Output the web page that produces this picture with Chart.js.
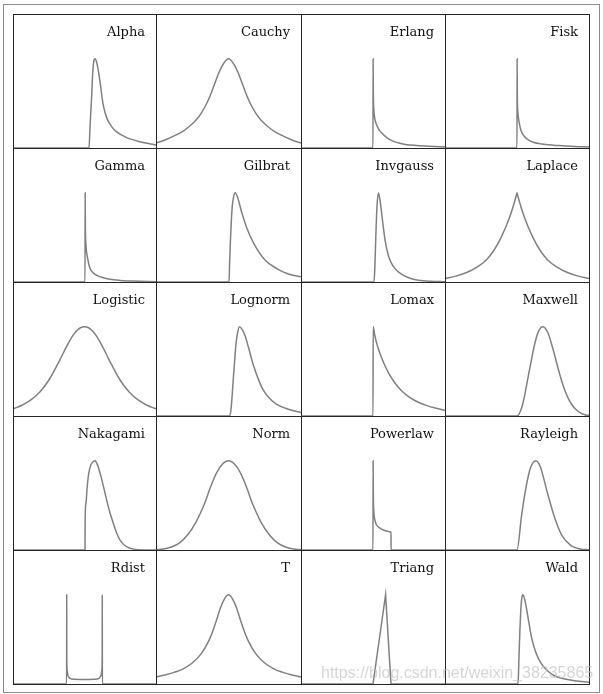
<!DOCTYPE html>
<html>
<head>
<meta charset="utf-8">
<script src="https://cdn.jsdelivr.net/npm/chart.js@4.4.0/dist/chart.umd.min.js"></script>
<style>
  body { margin:0; background:#fff; width:603px; height:694px; overflow:hidden; position:relative; }
  #frame { position:absolute; left:3px; top:4px; width:597px; height:689px; box-sizing:border-box; border:1px solid #8c8c8c; }
  canvas { position:absolute; }
  .gl { position:absolute; background:#262626; z-index:2; }
  #mark { position:absolute; left:321px; top:664px; z-index:3; font:16px "Liberation Sans", Arial, sans-serif; color:rgba(190,190,190,0.65); white-space:nowrap; }
</style>
</head>
<body>
<div id="frame"></div>
<div id="mark">https://blog.csdn.net/weixin_38235865</div>
<script>
// panel titles, row by row
const names = ["Alpha", "Cauchy", "Erlang", "Fisk",
  "Gamma", "Gilbrat", "Invgauss", "Laplace",
  "Logistic", "Lognorm", "Lomax", "Maxwell",
  "Nakagami", "Norm", "Powerlaw", "Rayleigh",
  "Rdist", "T", "Triang", "Wald"];

// pdf curves, [x, y] with the peak scaled to 1
const alpha = [[-4,0],[0.25,0],[0.31,0.24],[0.40,0.58],[0.46,0.84],[0.52,0.97],[0.59,1],[0.68,0.96],[0.77,0.87],[0.87,0.74],[0.96,0.6],[1.05,0.48],[1.24,0.34],[1.52,0.24],[1.8,0.18],[2.36,0.116],[3.1,0.07],[4,0.034]];
const cauchy = [[-4,0.055],[-3.5,0.09],[-3,0.135],[-2.5,0.19],[-2.2,0.235],[-1.8,0.31],[-1.5,0.39],[-1.15,0.52],[-0.76,0.72],[-0.4,0.9],[0,1],[0.4,0.9],[0.76,0.72],[1.15,0.52],[1.5,0.39],[1.8,0.31],[2.2,0.235],[2.5,0.19],[3,0.135],[3.5,0.09],[4,0.055]];
const erlang = [[-4,0],[0,0],[0.005,1],[0.02,0.6],[0.05,0.42],[0.1,0.33],[0.2,0.26],[0.35,0.2],[0.5,0.165],[0.75,0.12],[1.05,0.082],[1.4,0.058],[1.8,0.04],[2.4,0.028],[3.1,0.02],[4,0.01]];
const fisk = [[-4,0],[0,0],[0.005,1],[0.02,0.55],[0.05,0.4],[0.1,0.31],[0.2,0.21],[0.3,0.16],[0.45,0.12],[0.63,0.09],[0.9,0.065],[1.37,0.045],[2,0.032],[2.5,0.026],[3.2,0.018],[4,0.012]];
const gamma = [[-4,0],[0.03,0],[0.035,1],[0.05,0.6],[0.08,0.42],[0.16,0.28],[0.31,0.15],[0.5,0.1],[0.68,0.075],[1,0.05],[1.43,0.03],[2,0.018],[2.73,0.01],[4,0.004]];
const gilbrat = [[-4,0],[0.03,0],[0.06,0.2],[0.1,0.43],[0.2,0.83],[0.3,0.97],[0.37,1],[0.5,0.95],[0.7,0.8],[1,0.61],[1.4,0.43],[2,0.25],[2.66,0.15],[3.3,0.09],[4,0.058]];
const invgauss = [[-4,0],[0.05,0],[0.1,0.15],[0.15,0.47],[0.22,0.84],[0.3,1],[0.38,0.93],[0.48,0.77],[0.57,0.62],[0.67,0.47],[0.85,0.3],[1,0.22],[1.22,0.15],[1.5,0.1],[1.78,0.065],[2.1,0.04],[2.52,0.02],[3.2,0.008],[4,0.003]];
const laplace = [[-4,0.04],[-3.4,0.066],[-2.8,0.106],[-2.2,0.17],[-1.69,0.25],[-1.3,0.35],[-0.88,0.5],[-0.4,0.73],[-0.05,0.96],[0,1],[0.05,0.96],[0.4,0.73],[0.88,0.5],[1.3,0.35],[1.69,0.25],[2.2,0.17],[2.8,0.106],[3.4,0.066],[4,0.04]];
const logistic = [[-4,0.08],[-3.5,0.12],[-3,0.18],[-2.5,0.27],[-2,0.4],[-1.5,0.58],[-1.25,0.68],[-1,0.78],[-0.75,0.87],[-0.5,0.94],[-0.25,0.985],[0,1],[0.25,0.985],[0.5,0.94],[0.75,0.87],[1,0.78],[1.25,0.68],[1.5,0.58],[2,0.4],[2.5,0.27],[3,0.18],[3.5,0.12],[4,0.08]];
const lognorm = [[-4,0],[0.07,0],[0.15,0.1],[0.26,0.4],[0.35,0.65],[0.41,0.8],[0.5,0.93],[0.6,1],[0.75,0.97],[0.91,0.9],[1.1,0.77],[1.37,0.57],[1.65,0.41],[1.92,0.29],[2.3,0.19],[2.66,0.13],[3.3,0.075],[4,0.04]];
const lomax = [[-4,0],[0,0],[0.01,1],[0.1,0.9],[0.3,0.75],[0.5,0.64],[0.67,0.56],[0.9,0.47],[1.22,0.37],[1.6,0.28],[1.96,0.22],[2.4,0.165],[2.89,0.125],[3.4,0.092],[4,0.065]];
const maxwell = [[-4,0],[0,0],[0.3,0.12],[0.63,0.45],[1,0.82],[1.2,0.95],[1.43,1],[1.7,0.94],[2,0.75],[2.3,0.52],[2.6,0.32],[3,0.14],[3.4,0.05],[3.8,0.012],[4,0.007]];
const nakagami = [[-4,0],[0.03,0],[0.035,0.35],[0.08,0.52],[0.14,0.68],[0.21,0.82],[0.3,0.92],[0.4,0.97],[0.59,1],[0.75,0.94],[0.87,0.86],[1.05,0.72],[1.24,0.56],[1.42,0.42],[1.61,0.3],[1.8,0.19],[1.99,0.11],[2.25,0.05],[2.55,0.02],[3,0.004],[4,0]];
const norm = [[-4,0.003],[-3.6,0.01],[-3.2,0.03],[-2.7,0.08],[-2.25,0.17],[-1.8,0.31],[-1.3,0.53],[-1,0.7],[-0.5,0.92],[0,1],[0.5,0.92],[1,0.7],[1.3,0.53],[1.8,0.31],[2.25,0.17],[2.7,0.08],[3.2,0.03],[3.6,0.01],[4,0.003]];
const powerlaw = [[-4,0],[0,0],[0.005,1],[0.02,0.6],[0.05,0.42],[0.1,0.34],[0.2,0.28],[0.35,0.25],[0.5,0.23],[0.7,0.215],[0.9,0.205],[1,0.2],[1.005,0],[4,0]];
const rayleigh = [[-4,0],[0,0],[0.25,0.38],[0.5,0.7],[0.75,0.92],[1.04,1],[1.3,0.93],[1.65,0.67],[2,0.42],[2.2,0.3],[2.5,0.16],[3,0.05],[3.5,0.012],[4,0.002]];
const rdist = [[-4,0],[-1,0],[-0.995,1],[-0.99,0.3],[-0.97,0.15],[-0.93,0.1],[-0.85,0.07],[-0.72,0.055],[0,0.05],[0.72,0.055],[0.85,0.07],[0.93,0.1],[0.97,0.15],[0.99,0.3],[0.995,1],[1,0],[4,0]];
const t = [[-4,0.078],[-3.5,0.1],[-3,0.13],[-2.5,0.17],[-2,0.235],[-1.5,0.34],[-1.05,0.5],[-0.7,0.69],[-0.35,0.9],[0,1],[0.35,0.9],[0.7,0.69],[1.05,0.5],[1.5,0.34],[2,0.235],[2.5,0.17],[3,0.13],[3.5,0.1],[4,0.078]];
const triang = [[-4,0],[0,0],[0.7,1],[1,0],[4,0]];
const wald = [[-4,0],[0.03,0],[0.07,0.05],[0.11,0.3],[0.16,0.6],[0.21,0.82],[0.26,0.95],[0.32,1],[0.4,0.97],[0.54,0.83],[0.65,0.7],[0.81,0.52],[1,0.38],[1.18,0.29],[1.45,0.2],[1.74,0.14],[2.1,0.09],[2.48,0.064],[3.2,0.036],[4,0.02]];

const curves = [alpha, cauchy, erlang, fisk, gamma, gilbrat, invgauss, laplace,
  logistic, lognorm, lomax, maxwell, nakagami, norm, powerlaw, rayleigh,
  rdist, t, triang, wald];

// smooth bells get a plain spline, triang stays straight, the rest monotone
const bells = ["Cauchy", "Logistic", "Norm", "T"];

// grid lines of the 4x5 panel layout
const colEdges = [13, 156, 301, 445, 589];
const rowEdges = [14, 148, 282, 416, 550, 684];

// name in the top right corner of each panel
const cornerLabel = {
  id: "cornerLabel",
  afterDatasetsDraw(chart, args, opts) {
    const { ctx, chartArea } = chart;
    ctx.save();
    ctx.font = '13px "DejaVu Serif"';
    ctx.fillStyle = "#111";
    ctx.textAlign = "right";
    ctx.textBaseline = "alphabetic";
    ctx.fillText(opts.text, chartArea.right - 11, chartArea.top + 22);
    ctx.restore();
  },
};

names.forEach((name, i) => {
  const r = Math.floor(i / 4), c = i % 4;
  const cv = document.createElement("canvas");
  cv.width = colEdges[c + 1] - colEdges[c];
  cv.height = rowEdges[r + 1] - rowEdges[r];
  cv.style.left = colEdges[c] + "px";
  cv.style.top = rowEdges[r] + "px";
  document.body.appendChild(cv);

  let mode = "monotone", tension = 0;
  if (name === "Triang") mode = "default";
  if (bells.includes(name)) { mode = "default"; tension = 0.4; }

  new Chart(cv, {
    type: "line",
    data: {
      datasets: [{
        data: curves[i].map(([x, y]) => ({ x, y })),
        borderColor: "#808080",
        borderWidth: 1.5,
        pointRadius: 0,
        fill: false,
        tension: tension,
        cubicInterpolationMode: mode,
      }],
    },
    options: {
      responsive: false,
      animation: false,
      events: [],
      layout: { padding: 0 },
      scales: {
        x: { type: "linear", min: -4, max: 4, display: false },
        y: { min: 0, max: 1.5, display: false },
      },
      plugins: {
        legend: { display: false },
        tooltip: { enabled: false },
        cornerLabel: { text: name },
      },
    },
    plugins: [cornerLabel],
  });
});

// draw the panel borders on top
colEdges.forEach((x) => {
  const d = document.createElement("div");
  d.className = "gl";
  d.style.cssText = `left:${x}px;top:${rowEdges[0]}px;width:1px;height:${rowEdges[5] - rowEdges[0] + 1}px`;
  document.body.appendChild(d);
});
rowEdges.forEach((y) => {
  const d = document.createElement("div");
  d.className = "gl";
  d.style.cssText = `left:${colEdges[0]}px;top:${y}px;width:${colEdges[4] - colEdges[0] + 1}px;height:1px`;
  document.body.appendChild(d);
});
</script>
</body>
</html>
